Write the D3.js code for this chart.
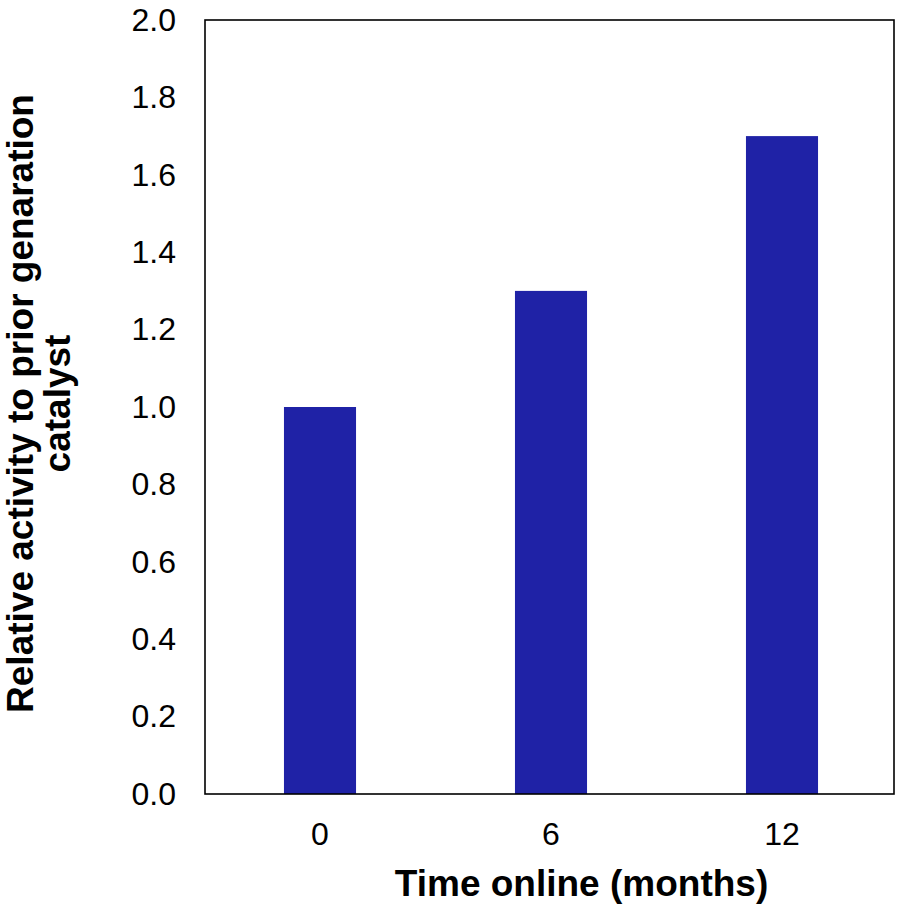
<!DOCTYPE html>
<html>
<head>
<meta charset="utf-8">
<script src="https://cdn.jsdelivr.net/npm/d3@7"></script>
<style>
  html, body { margin: 0; padding: 0; background: #fff; }
  svg { display: block; font-family: "Liberation Sans", Arial, sans-serif; }
</style>
</head>
<body>
<svg id="chart" width="897" height="907"></svg>
<script>
// Catalyst activity relative to the previous generation, by months online
const months = ["0", "6", "12"];
const activity = [1.0, 1.3, 1.7];
const yTicks = [0, 0.2, 0.4, 0.6, 0.8, 1.0, 1.2, 1.4, 1.6, 1.8, 2.0];

const svg = d3.select("#chart");
const plot = { left: 205, right: 894, top: 20, bottom: 794 };

// category bands run slightly past the right frame edge
const x = d3.scaleBand()
  .domain(months)
  .range([204.5, 897.5])
  .paddingInner(0.688)
  .paddingOuter(0.344);

const y = d3.scaleLinear().domain([0, 2]).range([plot.bottom, plot.top]);

// bars
svg.append("g")
  .selectAll("rect")
  .data(months.map((m, i) => ({ m, v: activity[i] })))
  .join("rect")
  .attr("x", d => x(d.m))
  .attr("y", d => y(d.v))
  .attr("width", x.bandwidth())
  .attr("height", d => y(0) - y(d.v))
  .attr("fill", "#1f22a6");

// frame
svg.append("rect")
  .attr("x", plot.left)
  .attr("y", plot.top)
  .attr("width", plot.right - plot.left)
  .attr("height", plot.bottom - plot.top)
  .attr("fill", "none")
  .attr("stroke", "#000")
  .attr("stroke-width", 1.6);

// y axis labels
const yAxis = d3.axisLeft(y)
  .tickValues(yTicks)
  .tickFormat(d3.format(".1f"))
  .tickSize(0)
  .tickPadding(29);
svg.append("g")
  .attr("transform", `translate(${plot.left},0)`)
  .call(yAxis)
  .call(g => g.select(".domain").remove())
  .call(g => g.selectAll("text")
    .attr("font-size", 32)
    .attr("font-family", "Liberation Sans, Arial, sans-serif")
    .attr("fill", "#000"));

// x axis labels
const xAxis = d3.axisBottom(x).tickSize(0).tickPadding(28);
svg.append("g")
  .attr("transform", `translate(0,${plot.bottom})`)
  .call(xAxis)
  .call(g => g.select(".domain").remove())
  .call(g => g.selectAll("text")
    .attr("font-size", 32)
    .attr("font-family", "Liberation Sans, Arial, sans-serif")
    .attr("fill", "#000"));

// x title
svg.append("text")
  .attr("x", 581.5)
  .attr("y", 896)
  .attr("text-anchor", "middle")
  .attr("font-size", 37)
  .attr("font-weight", "bold")
  .text("Time online (months)");

// y title (two lines)
const yTitle = svg.append("text")
  .attr("transform", "translate(0,403.5) rotate(-90)")
  .attr("text-anchor", "middle")
  .attr("font-size", 37)
  .attr("font-weight", "bold");
yTitle.append("tspan").attr("x", 0).attr("y", 33).text("Relative activity to prior genaration");
yTitle.append("tspan").attr("x", 0).attr("y", 70).text("catalyst");
</script>
</body>
</html>
